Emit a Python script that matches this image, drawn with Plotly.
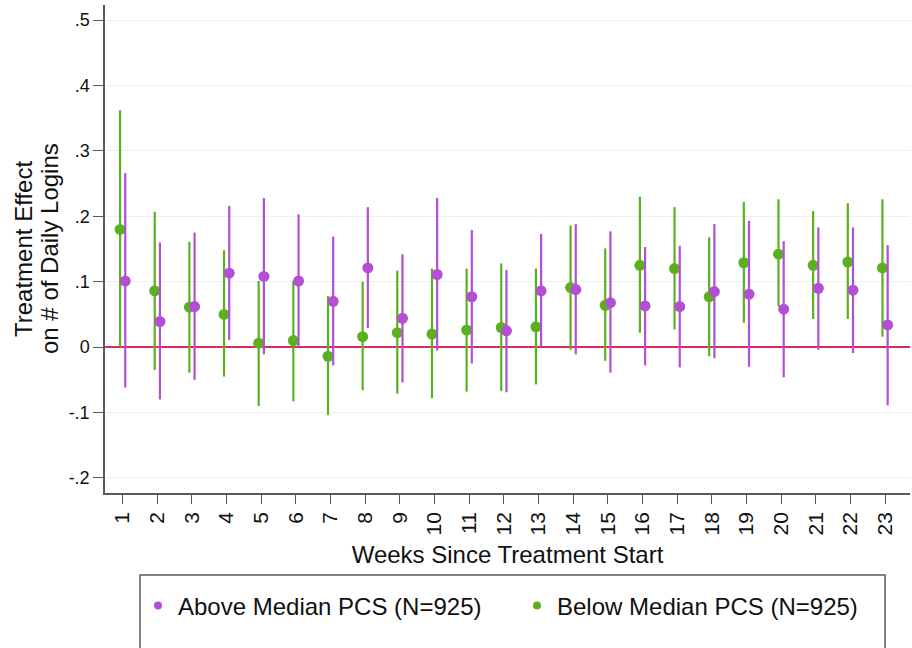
import plotly.graph_objects as go

weeks = list(range(1, 24))

above_est = [0.101, 0.039, 0.062, 0.113, 0.108, 0.101, 0.070, 0.121, 0.044, 0.111, 0.077, 0.025,
             0.086, 0.088, 0.068, 0.063, 0.062, 0.085, 0.081, 0.058, 0.090, 0.087, 0.034]
above_hi = [0.266, 0.160, 0.175, 0.216, 0.228, 0.203, 0.169, 0.214, 0.142, 0.228, 0.179, 0.118,
            0.173, 0.188, 0.177, 0.153, 0.155, 0.188, 0.193, 0.162, 0.183, 0.183, 0.156]
above_lo = [-0.062, -0.080, -0.050, 0.011, -0.011, 0.000, -0.028, 0.029, -0.054, -0.005, -0.025, -0.069,
            0.001, -0.011, -0.039, -0.028, -0.031, -0.017, -0.030, -0.046, -0.004, -0.009, -0.089]

below_est = [0.180, 0.086, 0.061, 0.050, 0.006, 0.010, -0.014, 0.016, 0.022, 0.020, 0.026, 0.030,
             0.031, 0.091, 0.064, 0.125, 0.120, 0.077, 0.129, 0.142, 0.125, 0.130, 0.121]
below_hi = [0.362, 0.207, 0.161, 0.148, 0.101, 0.101, 0.078, 0.100, 0.117, 0.120, 0.120, 0.128,
            0.120, 0.186, 0.151, 0.230, 0.214, 0.168, 0.222, 0.226, 0.208, 0.220, 0.226]
below_lo = [0.000, -0.035, -0.039, -0.045, -0.090, -0.083, -0.104, -0.066, -0.071, -0.078, -0.068, -0.067,
            -0.057, -0.004, -0.021, 0.022, 0.027, -0.014, 0.037, 0.062, 0.043, 0.043, 0.016]

ytick_vals = [-0.2, -0.1, 0, 0.1, 0.2, 0.3, 0.4, 0.5]
ytick_text = ["-.2", "-.1", "0", ".1", ".2", ".3", ".4", ".5"]

above_name = "Above Median PCS (N=925)"
below_name = "Below Median PCS (N=925)"
ytitle_lines = ["Treatment Effect", "on # of Daily Logins"]

PURPLE = "#B24FD3"
GREEN = "#5BB01F"
FONT = "Liberation Sans, Arial, sans-serif"
OFFSET = 0.075

fig = go.Figure()

fig.add_trace(go.Scatter(
    x=[w - OFFSET for w in weeks], y=below_est, mode="markers",
    marker=dict(color=GREEN, size=11),
    error_y=dict(type="data", symmetric=False,
                 array=[h - e for h, e in zip(below_hi, below_est)],
                 arrayminus=[e - l for e, l in zip(below_est, below_lo)],
                 color=GREEN, thickness=2.2, width=0),
    showlegend=False, name=below_name))

fig.add_trace(go.Scatter(
    x=[w + OFFSET for w in weeks], y=above_est, mode="markers",
    marker=dict(color=PURPLE, size=11),
    error_y=dict(type="data", symmetric=False,
                 array=[h - e for h, e in zip(above_hi, above_est)],
                 arrayminus=[e - l for e, l in zip(above_est, above_lo)],
                 color=PURPLE, thickness=2.2, width=0),
    showlegend=False, name=above_name))

# legend-only entries
fig.add_trace(go.Scatter(x=[None], y=[None], mode="markers", name=above_name,
                         marker=dict(color=PURPLE, size=8)))
fig.add_trace(go.Scatter(x=[None], y=[None], mode="markers", name=below_name,
                         marker=dict(color=GREEN, size=8)))

# legend frame
fig.add_shape(type="rect", xref="paper", yref="paper",
              x0=0.0435, x1=0.969, y0=-0.34, y1=-0.168,
              line=dict(color="#5A5A5A", width=1.5), fillcolor="rgba(0,0,0,0)")

# y-axis title as two rotated lines (tighter line spacing)
for line, shift in zip(ytitle_lines, [-82, -56]):
    fig.add_annotation(text=line, xref="paper", yref="paper", x=0, y=0.5,
                       xanchor="center", yanchor="middle", xshift=shift,
                       textangle=-90, showarrow=False,
                       font=dict(size=24, family=FONT, color="#111111"))

fig.update_layout(
    width=912, height=648,
    margin=dict(l=105, r=2, t=5, b=155),
    paper_bgcolor="white", plot_bgcolor="white",
    font=dict(family=FONT, color="#111111"),
    showlegend=True,
    legend=dict(orientation="h", x=0.041, xanchor="left", y=-0.2316, yanchor="middle",
                font=dict(size=24, family=FONT, color="#111111"),
                bgcolor="rgba(0,0,0,0)", borderwidth=0,
                entrywidth=334, entrywidthmode="pixels", traceorder="normal"),
    xaxis=dict(range=[0.49, 23.72], tickvals=weeks, ticktext=[str(w) for w in weeks],
               tickangle=-90, ticks="outside", ticklen=9, tickwidth=1.3, tickcolor="#5A5A5A",
               showline=True, linecolor="#5A5A5A", linewidth=1.5, showgrid=False, zeroline=False,
               tickfont=dict(size=21, family=FONT, color="#111111"),
               title=dict(text="Weeks Since Treatment Start", font=dict(size=24, family=FONT, color="#111111"),
                          standoff=12)),
    yaxis=dict(range=[-0.223, 0.523], tickvals=ytick_vals, ticktext=ytick_text,
               ticks="outside", ticklen=10, tickwidth=1.3, tickcolor="#5A5A5A",
               showline=True, linecolor="#5A5A5A", linewidth=1.5,
               showgrid=True, gridcolor="#E8F1F3", gridwidth=1,
               zeroline=True, zerolinecolor="#D22F5C", zerolinewidth=2.2,
               tickfont=dict(size=18, family=FONT, color="#111111")),
)

fig.write_html("out.html")
